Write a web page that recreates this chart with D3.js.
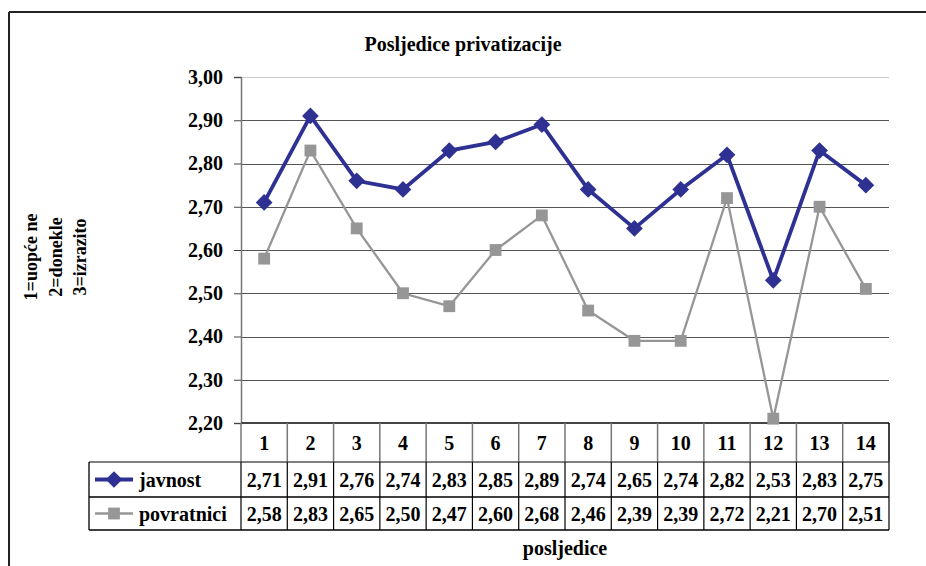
<!DOCTYPE html>
<html lang="hr">
<head>
    <meta charset="utf-8">
    <script src='https://d3js.org/d3.v7.min.js'></script>
    <style>
        body { margin: 0; background: #fff; }
    </style>
</head>
<body>
<script>
// data
const categories = ["1","2","3","4","5","6","7","8","9","10","11","12","13","14"];
const javnost = [2.71, 2.91, 2.76, 2.74, 2.83, 2.85, 2.89, 2.74, 2.65, 2.74, 2.82, 2.53, 2.83, 2.75];
const povratnici = [2.58, 2.83, 2.65, 2.50, 2.47, 2.60, 2.68, 2.46, 2.39, 2.39, 2.72, 2.21, 2.70, 2.51];
const yTicks = [2.20, 2.30, 2.40, 2.50, 2.60, 2.70, 2.80, 2.90, 3.00];
const seriesNames = ["javnost", "povratnici"];

const W = 926, H = 566;
const plot = {left: 241, right: 889, top: 77, bottom: 423};
const rowH = [39, 35, 33];   // header row, javnost row, povratnici row
const legendLeft = 89;
const FONT = "'Liberation Serif', 'Times New Roman', 'DejaVu Serif', serif";

const fmt = v => d3.format(".2f")(v).replace(".", ",");

// apply the serif font straight on each text
function serif(sel, size) {
    return sel.attr("font-family", null)
        .style("font-family", FONT)
        .style("font-weight", "bold")
        .style("font-size", size + "px")
        .attr("fill", "#000");
}

const svg = d3.select("body").append("svg")
    .attr("width", W)
    .attr("height", H)
    .style("font-family", FONT);

// outer frame (left + top only visible)
svg.append("line").attr("x1", 9).attr("x2", W).attr("y1", 12).attr("y2", 12)
    .attr("stroke", "#222").attr("stroke-width", 2);
svg.append("line").attr("x1", 9).attr("x2", 9).attr("y1", 12).attr("y2", H)
    .attr("stroke", "#222").attr("stroke-width", 2);

// title
serif(svg.append("text")
    .attr("x", 463).attr("y", 51)
    .attr("text-anchor", "middle")
    .text("Posljedice privatizacije"), 20);

// scales
var x = d3.scaleBand()
    .domain(categories)
    .range([plot.left, plot.right]);
var y = d3.scaleLinear()
    .domain([2.2, 3.0])
    .range([plot.bottom, plot.top]);

// gridlines
svg.append("g")
    .selectAll("line")
    .data(yTicks.slice(1))
    .join("line")
    .attr("x1", plot.left).attr("x2", plot.right)
    .attr("y1", d => Math.round(y(d)) + 0.5).attr("y2", d => Math.round(y(d)) + 0.5)
    .attr("stroke", d => d === 3.0 ? "#ccc" : "#555")
    .attr("stroke-width", 1.2);

// Y axis
var yAxis = svg.append("g")
    .attr("transform", "translate(" + plot.left + ",0)")
    .call(d3.axisLeft(y).tickValues(yTicks).tickSize(7).tickPadding(11).tickFormat(fmt));
yAxis.attr("font-family", null);
yAxis.select(".domain").attr("stroke", "#777").attr("stroke-width", 1.5);
yAxis.selectAll(".tick line").attr("stroke", "#444");
serif(yAxis.selectAll(".tick text"), 20);

// bottom axis line
svg.append("line")
    .attr("x1", plot.left).attr("x2", plot.right)
    .attr("y1", plot.bottom).attr("y2", plot.bottom)
    .attr("stroke", "#444").attr("stroke-width", 2);

// Y axis title (three rotated lines)
const yTitle = ["1=uopće ne", "2=donekle", "3=izrazito"];
serif(svg.append("g")
    .selectAll("text")
    .data(yTitle)
    .join("text")
    .attr("transform", (d, i) => "translate(" + (37 + i * 24.5) + ",257) rotate(-90)")
    .attr("text-anchor", "middle")
    .text(d => d), 18);

// data table
const r0 = plot.bottom, r1 = r0 + rowH[0], r2 = r1 + rowH[1], r3 = r2 + rowH[2];
const table = svg.append("g");

// category labels
serif(table.selectAll(".cat")
    .data(categories)
    .join("text")
    .attr("class", "cat")
    .attr("x", d => x(d) + x.bandwidth() / 2)
    .attr("y", r0 + 27)
    .attr("text-anchor", "middle")
    .text(d => d), 20);

// column dividers in header row (gray)
table.selectAll(".hdiv")
    .data(categories.concat(["end"]))
    .join("line")
    .attr("x1", (d, i) => i < categories.length ? x(d) : plot.right)
    .attr("x2", (d, i) => i < categories.length ? x(d) : plot.right)
    .attr("y1", r0).attr("y2", r1)
    .attr("stroke", (d, i) => i === categories.length ? "#000" : "#777")
    .attr("stroke-width", 1.5);

// row borders
[r1, r2, r3].forEach(function(ry, i) {
    table.append("line")
        .attr("x1", legendLeft).attr("x2", plot.right)
        .attr("y1", ry).attr("y2", ry)
        .attr("stroke", i === 0 ? "#555" : "#000")
        .attr("stroke-width", 1.3);
});
// vertical borders in body rows
table.selectAll(".bdiv")
    .data(d3.range(categories.length + 1))
    .join("line")
    .attr("x1", i => i < categories.length ? x(categories[i]) : plot.right)
    .attr("x2", i => i < categories.length ? x(categories[i]) : plot.right)
    .attr("y1", r1).attr("y2", r3)
    .attr("stroke", "#000")
    .attr("stroke-width", 1.2);
table.append("line")
    .attr("x1", legendLeft).attr("x2", legendLeft)
    .attr("y1", r1).attr("y2", r3)
    .attr("stroke", "#000").attr("stroke-width", 1.3);

// table values
const rows = [javnost, povratnici];
rows.forEach(function(vals, ri) {
    const cy = ri === 0 ? r1 + 25 : r2 + 24;
    serif(table.selectAll(".v" + ri)
        .data(vals)
        .join("text")
        .attr("class", "v" + ri)
        .attr("x", (d, i) => x(categories[i]) + x.bandwidth() / 2)
        .attr("y", cy)
        .attr("text-anchor", "middle")
        .text(d => fmt(d)), 20);
});

// marker shapes
const diamond = d3.symbol().type(d3.symbolSquare).size(140);
const square = d3.symbol().type(d3.symbolSquare).size(140);

// legend keys in table
const styles = [
    {color: "#2E3192", width: 3.8, shape: diamond, rot: 45},
    {color: "#969696", width: 2.3, shape: square, rot: 0}
];
seriesNames.forEach(function(name, i) {
    const cy = i === 0 ? (r1 + r2) / 2 : (r2 + r3) / 2;
    const s = styles[i];
    table.append("line")
        .attr("x1", 95).attr("x2", 133)
        .attr("y1", cy).attr("y2", cy)
        .attr("stroke", s.color).attr("stroke-width", s.width);
    table.append("path")
        .attr("d", s.shape())
        .attr("transform", "translate(114," + cy + ") rotate(" + s.rot + ")")
        .attr("fill", s.color);
    serif(table.append("text")
        .attr("x", 139).attr("y", cy + 7)
        .text(name), 20);
});

// lines + markers
const line = d3.line()
    .x((d, i) => x(categories[i]) + x.bandwidth() / 2)
    .y(d => y(d));

[povratnici, javnost].forEach(function(vals) {
    const s = vals === javnost ? styles[0] : styles[1];
    svg.append("path")
        .datum(vals)
        .attr("d", line)
        .attr("fill", "none")
        .attr("stroke", s.color)
        .attr("stroke-width", s.width)
        .attr("stroke-linejoin", "miter");
    svg.append("g")
        .selectAll("path")
        .data(vals)
        .join("path")
        .attr("d", s.shape())
        .attr("transform", (d, i) => "translate(" + (x(categories[i]) + x.bandwidth() / 2) + "," + y(d) + ") rotate(" + s.rot + ")")
        .attr("fill", s.color);
});

// x axis title
serif(svg.append("text")
    .attr("x", (plot.left + plot.right) / 2)
    .attr("y", 555)
    .attr("text-anchor", "middle")
    .text("posljedice"), 20);
</script>
</body>
</html>
